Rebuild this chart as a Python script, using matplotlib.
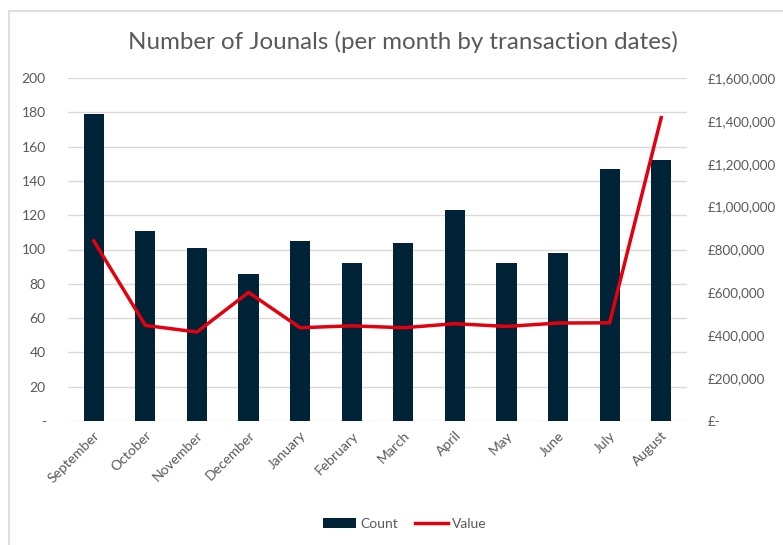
import matplotlib
matplotlib.use('Agg')
import matplotlib.pyplot as plt
import matplotlib.ticker as mticker
from matplotlib.patches import Rectangle
import numpy as np

plt.rcParams['font.family'] = ['Lato', 'DejaVu Sans']

months = ['September', 'October', 'November', 'December', 'January', 'February',
          'March', 'April', 'May', 'June', 'July', 'August']
counts = [179, 111, 101, 86, 105, 92, 104, 123, 92, 98, 147, 152]
values = [840000, 446000, 415000, 600000, 435000, 444000, 435000, 454000,
          441000, 457000, 458000, 1415000]

grey = '#595959'
fig = plt.figure(figsize=(7.83, 5.45), dpi=100)
# Excel chart-area border
fig.patches.append(Rectangle((9 / 783, -0.1), 1.2, 1 - 11 / 545 + 0.1,
                             transform=fig.transFigure, fill=False,
                             edgecolor='#d9d9d9', linewidth=1.2))

ax = fig.add_axes([68 / 783, 1 - 421 / 545, (687 - 68) / 783, (421 - 78) / 545])
x = np.arange(len(months))
bars = ax.bar(x, counts, width=0.39, color='#002337', label='Count', zorder=2)
ax.set_xlim(-0.5, len(months) - 0.5)
ax.set_ylim(0, 200)
ax.set_yticks(range(0, 201, 20))
ax.yaxis.set_major_formatter(mticker.FuncFormatter(lambda v, p: '-' if v == 0 else f'{int(v)}'))
ax.grid(axis='y', color='#d9d9d9', linewidth=1, zorder=0)
ax.set_xticks(x)
ax.set_xticklabels(months, rotation=45, ha='right', rotation_mode='anchor')
for s in ax.spines.values():
    s.set_visible(False)
ax.tick_params(length=0, colors=grey, labelsize=10)
ax.tick_params(axis='y', pad=16)
ax.tick_params(axis='x', pad=6)

ax2 = ax.twinx()
line, = ax2.plot(x, values, color='#e3000f', linewidth=2.5, label='Value', zorder=3)
ax2.set_ylim(0, 1600000)
ax2.set_yticks(range(0, 1600001, 200000))
ax2.yaxis.set_major_formatter(mticker.FuncFormatter(lambda v, p: '£-' if v == 0 else f'£{int(v):,}'))
for s in ax2.spines.values():
    s.set_visible(False)
ax2.tick_params(length=0, colors=grey, labelsize=9.6, pad=15)

fig.text(403 / 783, 1 - 42 / 545, 'Number of Jounals (per month by transaction dates)',
         ha='center', va='center', fontsize=17.4, color=grey)

fig.legend([bars, line], ['Count', 'Value'], loc='center', bbox_to_anchor=(405 / 783, 1 - 524 / 545),
           ncol=2, frameon=False, fontsize=10, labelcolor=grey, handlelength=2.4,
           handletextpad=0.3, columnspacing=1.2)

fig.savefig('out.png', dpi=100)
